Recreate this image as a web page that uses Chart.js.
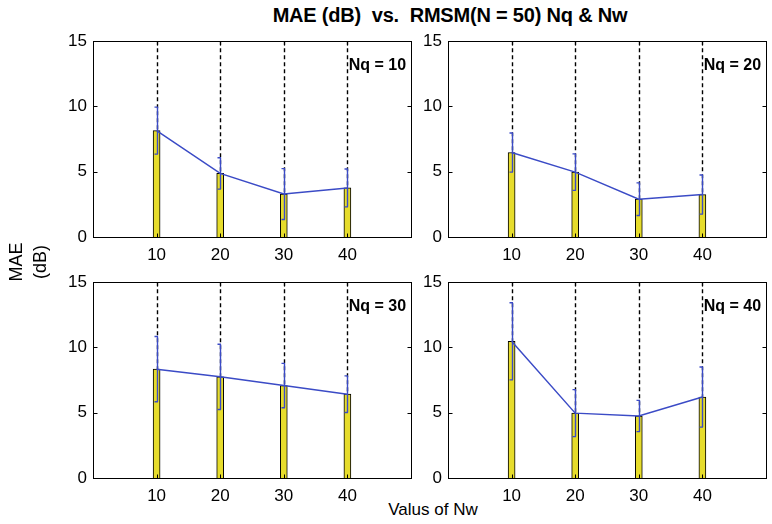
<!DOCTYPE html>
<html>
<head>
<meta charset="utf-8">
<script src="https://cdn.jsdelivr.net/npm/chart.js@4.4.1/dist/chart.umd.min.js"></script>
<style>
  body { margin: 0; background: #fff; }
  #wrap { position: relative; width: 772px; height: 524px; overflow: hidden; font-family: "Liberation Sans", Arial, sans-serif; }
  canvas { position: absolute; }
  .txt { position: absolute; white-space: nowrap; color: #000; }
</style>
</head>
<body>
<div id="wrap">
  <div class="txt" id="title" style="left:450px; top:15px; transform:translate(-50%,-50%); font-weight:bold; font-size:20px; letter-spacing:-0.2px;">MAE (dB)&nbsp; vs.&nbsp; RMSM(N = 50) Nq &amp; Nw</div>
  <div class="txt" id="xlab" style="left:433px; top:510px; transform:translate(-50%,-50%); font-size:17px;">Valus of Nw</div>
  <canvas id="ylab" width="60" height="80" style="left:0px; top:222px;"></canvas>
  <canvas id="c1" width="364" height="242" style="left:53px; top:25px;"></canvas>
  <canvas id="c2" width="364" height="242" style="left:408px; top:25px;"></canvas>
  <canvas id="c3" width="364" height="242" style="left:53px; top:266px;"></canvas>
  <canvas id="c4" width="364" height="242" style="left:408px; top:266px;"></canvas>
</div>
<script>
// valores
const nwValues = [10, 20, 30, 40];
const xTicks = [10, 20, 30, 40];
const yTicks = [0, 5, 10, 15];

const maeNq10 = [8.15, 4.87, 3.29, 3.76];
const errNq10 = [1.8, 1.2, 1.95, 1.45];
const maeNq20 = [6.47, 4.97, 2.9, 3.25];
const errNq20 = [1.5, 1.4, 1.25, 1.5];
const maeNq30 = [8.34, 7.75, 7.08, 6.42];
const errNq30 = [2.5, 2.5, 1.7, 1.4];
const maeNq40 = [10.47, 4.97, 4.75, 6.2];
const errNq40 = [2.95, 1.8, 1.2, 2.3];

const nqLabels = ["Nq = 10", "Nq = 20", "Nq = 30", "Nq = 40"];

const BAR_YELLOW = "#e6dc2c";
const LINE_BLUE = "#3b4bc6";
const FONT = "'Liberation Sans', Arial, sans-serif";

// titulo del eje y, rotado
const yl = document.getElementById("ylab").getContext("2d");
yl.save();
yl.translate(30, 40);
yl.rotate(-Math.PI / 2);
yl.font = "18px " + FONT;
yl.fillStyle = "#000";
yl.textAlign = "center";
yl.textBaseline = "middle";
yl.fillText("MAE", 0, -13);
yl.fillText("(dB)", 0, 11);
yl.restore();

// plugin para lineas punteadas, barras de error, marco y etiqueta
const panelDecor = {
  id: "panelDecor",
  beforeDatasetsDraw(chart, args, opts) {
    const { ctx, scales } = chart;
    const x = scales.x, y = scales.y;
    ctx.save();
    ctx.strokeStyle = "#000";
    ctx.lineWidth = 1.4;
    ctx.setLineDash([4, 3]);
    opts.values.forEach((v, i) => {
      const px = Math.round(x.getPixelForValue(nwValues[i])) + 0.5;
      ctx.beginPath();
      ctx.moveTo(px, y.getPixelForValue(y.max));
      ctx.lineTo(px, y.getPixelForValue(v));
      ctx.stroke();
    });
    ctx.restore();
  },
  afterDatasetsDraw(chart, args, opts) {
    const { ctx, scales, chartArea } = chart;
    const x = scales.x, y = scales.y;
    ctx.save();
    // barras de error
    ctx.strokeStyle = LINE_BLUE;
    ctx.lineWidth = 1.4;
    opts.values.forEach((v, i) => {
      const px = Math.round(x.getPixelForValue(nwValues[i])) + 0.5;
      const top = y.getPixelForValue(v + opts.errors[i]);
      const bot = y.getPixelForValue(v - opts.errors[i]);
      ctx.beginPath();
      ctx.moveTo(px, top);
      ctx.lineTo(px, bot);
      ctx.moveTo(px - 3, top);
      ctx.lineTo(px + 0.5, top);
      ctx.moveTo(px - 3, bot);
      ctx.lineTo(px + 0.5, bot);
      ctx.stroke();
    });
    // marco
    ctx.strokeStyle = "#000";
    ctx.lineWidth = 1;
    const l = Math.round(chartArea.left) + 0.5, r = Math.round(chartArea.right) + 0.5;
    const t = Math.round(chartArea.top) + 0.5, b = Math.round(chartArea.bottom) + 0.5;
    ctx.strokeRect(l, t, r - l, b - t);
    ctx.beginPath();
    xTicks.forEach((v) => {
      const px = Math.round(x.getPixelForValue(v)) + 0.5;
      ctx.moveTo(px, b); ctx.lineTo(px, b - 4);
      ctx.moveTo(px, t); ctx.lineTo(px, t + 4);
    });
    yTicks.forEach((v) => {
      const py = Math.round(y.getPixelForValue(v)) + 0.5;
      ctx.moveTo(l, py); ctx.lineTo(l + 4, py);
      ctx.moveTo(r, py); ctx.lineTo(r - 4, py);
    });
    ctx.stroke();
    // etiqueta Nq
    ctx.fillStyle = "#000";
    ctx.font = "bold 16px " + FONT;
    ctx.textBaseline = "middle";
    ctx.textAlign = "left";
    ctx.fillText(opts.label, x.getPixelForValue(40.2), y.getPixelForValue(13.1));
    ctx.restore();
  },
};

function makePanel(id, values, errors, label) {
  const points = nwValues.map((nw, i) => ({ x: nw, y: values[i] }));
  return new Chart(document.getElementById(id), {
    data: {
      datasets: [
        {
          type: "line",
          data: points,
          borderColor: LINE_BLUE,
          borderWidth: 1.5,
          pointRadius: 0,
          order: 0,
        },
        {
          type: "bar",
          data: points,
          backgroundColor: BAR_YELLOW,
          borderColor: "#000",
          borderWidth: 1,
          barThickness: 7,
          order: 1,
        },
      ],
    },
    options: {
      responsive: false,
      animation: false,
      devicePixelRatio: 1,
      layout: { padding: { top: 10, right: 6, left: 0, bottom: 0 } },
      scales: {
        x: {
          type: "linear",
          min: 0,
          max: 50,
          offset: false,
          afterBuildTicks: (s) => { s.ticks = xTicks.map((v) => ({ value: v })); },
          afterFit: (s) => { s.height = 30; },
          grid: { display: false, drawTicks: false },
          border: { display: false },
          ticks: { color: "#000", padding: 8, maxRotation: 0, font: { size: 17, family: FONT } },
        },
        y: {
          min: 0,
          max: 15,
          afterBuildTicks: (s) => { s.ticks = yTicks.map((v) => ({ value: v })); },
          afterFit: (s) => { s.width = 40; },
          grid: { display: false, drawTicks: false },
          border: { display: false },
          ticks: { color: "#000", padding: 6, font: { size: 17, family: FONT } },
        },
      },
      plugins: {
        legend: { display: false },
        tooltip: { enabled: false },
        panelDecor: { values, errors, label },
      },
    },
    plugins: [panelDecor],
  });
}

makePanel("c1", maeNq10, errNq10, nqLabels[0]);
makePanel("c2", maeNq20, errNq20, nqLabels[1]);
makePanel("c3", maeNq30, errNq30, nqLabels[2]);
makePanel("c4", maeNq40, errNq40, nqLabels[3]);
</script>
</body>
</html>
